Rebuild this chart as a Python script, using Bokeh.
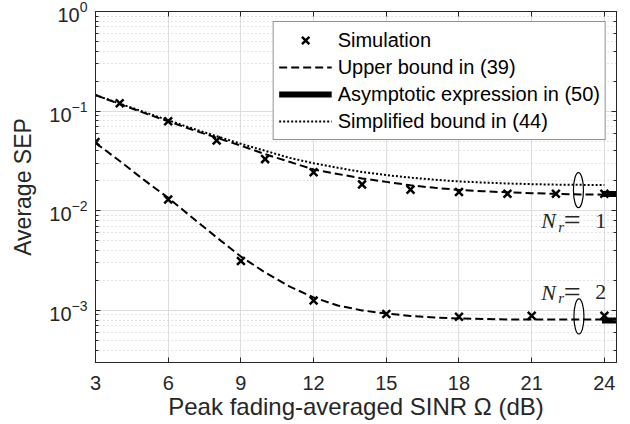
from bokeh.plotting import figure
from bokeh.models import (Range1d, FixedTicker, LinearAxis, LogAxis, Legend, LegendItem,
                          Label, LogTicker, CustomJSTickFormatter)
from bokeh.embed import file_html
from bokeh.resources import INLINE

# ---------------- data ----------------
snr_grid = [3, 4, 5, 6, 7, 8, 9, 10, 11, 12, 13, 14, 15, 16, 17, 18, 19, 20, 21, 22, 23, 24]
upper_nr1 = [0.145, 0.118, 0.096, 0.079, 0.065, 0.054, 0.045, 0.037, 0.031, 0.026, 0.0234,
             0.0211, 0.0195, 0.018, 0.017, 0.0162, 0.0157, 0.0153, 0.015, 0.0148, 0.0146, 0.0145]
simpl_nr1 = [0.145, 0.119, 0.098, 0.081, 0.067, 0.056, 0.047, 0.040, 0.034, 0.030, 0.027,
             0.0245, 0.0228, 0.0215, 0.0205, 0.0197, 0.0192, 0.0188, 0.0185, 0.0183, 0.0182, 0.0181]
upper_nr2 = [0.048, 0.0316, 0.0204, 0.0135, 0.0085, 0.0054, 0.00347, 0.0024, 0.00174, 0.00135,
             0.00112, 0.0010, 0.00093, 0.00088, 0.00085, 0.00083, 0.00082, 0.00081, 0.00081,
             0.00081, 0.00081, 0.00081]

sim_x_nr1 = [4, 6, 8, 10, 12, 14, 16, 18, 20, 22, 24]
sim_nr1 = [0.12, 0.079, 0.0507, 0.033, 0.0244, 0.0184, 0.0163, 0.0154, 0.0148, 0.0148, 0.0148]
sim_x_nr2 = [3, 6, 9, 12, 15, 18, 21, 24]
sim_nr2 = [0.049, 0.013, 0.00313, 0.00126, 0.00092, 0.000865, 0.000885, 0.000885]

asym_x = [23.9, 25.0]
asym_nr1 = [0.0147, 0.0147]
asym_nr2 = [0.00079, 0.00079]

ellipse_x = [22.93, 22.95]
ellipse_y = [0.0161, 0.00087]

label_x = 24.08
label_y = [0.00796, 0.00153]
label_digits = ["1", "2"]

x_ticks = [3, 6, 9, 12, 15, 18, 21, 24]

# ---------------- figure ----------------
TXT = "#262626"
p = figure(width=630, height=424, output_backend="svg", toolbar_location=None,
           y_axis_type="log", x_range=Range1d(3, 24.5), y_range=Range1d(3e-4, 1),
           min_border_left=95, min_border_right=14, min_border_top=11, min_border_bottom=62)
p.background_fill_color = "white"
p.outline_line_color = TXT
p.outline_line_width = 1

# grids
p.xgrid.grid_line_color = "#dedede"
p.ygrid.grid_line_color = "#dedede"
p.ygrid.minor_grid_line_color = "#c8c8c8"
p.ygrid.minor_grid_line_dash = "1 3"
p.xgrid.ticker = FixedTicker(ticks=x_ticks)

# axes
xa = p.xaxis[0]
xa.ticker = FixedTicker(ticks=x_ticks)
xa.axis_label = "Peak fading-averaged SINR Ω (dB)"
ya = p.yaxis[0]
ya.axis_label = "Average SEP"
for ax in (xa, ya):
    ax.axis_label_text_font = "Liberation Sans"
    ax.axis_label_text_font_size = "23px"
    ax.axis_label_text_font_style = "normal"
    ax.axis_label_text_color = TXT
    ax.major_label_text_font = "Liberation Sans"
    ax.major_label_text_font_size = "20px"
    ax.major_label_text_color = TXT
    ax.axis_line_color = TXT
    ax.major_tick_line_color = TXT
    ax.minor_tick_line_color = TXT
    ax.major_tick_in = 5
    ax.major_tick_out = 0
    ax.minor_tick_in = 3
    ax.minor_tick_out = 0
xa.axis_label_text_font_size = "24px"
xa.minor_tick_line_color = None
xa.major_label_standoff = 13
xa.axis_label_standoff = 0
ya.major_label_standoff = 8
ya.axis_label_standoff = 10

top = LinearAxis(ticker=FixedTicker(ticks=x_ticks),
                 formatter=CustomJSTickFormatter(code="return ' ';"),
                 major_label_text_font_size="1px",
                 major_tick_in=5, major_tick_out=0, major_label_standoff=0,
                 axis_line_color=TXT, major_tick_line_color=TXT, minor_tick_line_color=None)
p.add_layout(top, "above")
right = LogAxis(ticker=LogTicker(), formatter=CustomJSTickFormatter(code="return ' ';"),
                major_label_text_font_size="1px",
                major_tick_in=5, major_tick_out=0, minor_tick_in=3, minor_tick_out=0,
                major_label_standoff=0, axis_line_color=TXT,
                major_tick_line_color=TXT, minor_tick_line_color=TXT)
p.add_layout(right, "right")

# ---------------- data glyphs ----------------
ub1 = p.line(snr_grid, upper_nr1, line_color="black", line_width=2, line_dash="8 4")
p.line(snr_grid, upper_nr2, line_color="black", line_width=2, line_dash="8 4")
sb1 = p.line(snr_grid, simpl_nr1, line_color="black", line_width=2, line_dash="2 2")
as1 = p.line(asym_x, asym_nr1, line_color="black", line_width=6)
p.line(asym_x, asym_nr2, line_color="black", line_width=6)
sm1 = p.scatter(sim_x_nr1, sim_nr1, marker="x", size=11, line_color="black", line_width=2.5)
p.scatter(sim_x_nr2, sim_nr2, marker="x", size=11, line_color="black", line_width=2.5)

p.ellipse(x=ellipse_x, y=ellipse_y, width=10, height=35, width_units="screen",
          height_units="screen", fill_color=None, line_color="black", line_width=1.2)

# N_r labels
SERIF = "Liberation Serif"
for yv, d in zip(label_y, label_digits):
    p.add_layout(Label(x=label_x, y=yv, text="N", x_offset=-65, text_align="left",
                       text_baseline="middle", text_font=SERIF, text_font_style="italic",
                       text_font_size="22px", text_color=TXT))
    p.add_layout(Label(x=label_x, y=yv, text="r", x_offset=-48, y_offset=-6, text_align="left",
                       text_baseline="middle", text_font=SERIF, text_font_style="italic",
                       text_font_size="15px", text_color=TXT))
    p.add_layout(Label(x=label_x, y=yv, text="=", x_offset=-34, y_offset=1, text_align="center",
                       text_baseline="middle", text_font=SERIF,
                       text_font_size="30px", text_color=TXT))
    p.add_layout(Label(x=label_x, y=yv, text=d, x_offset=0, text_align="right",
                       text_baseline="middle", text_font=SERIF,
                       text_font_size="22px", text_color=TXT))

# ---------------- legend ----------------
legend = Legend(items=[
    LegendItem(label="Simulation", renderers=[sm1]),
    LegendItem(label="Upper bound in (39)", renderers=[ub1]),
    LegendItem(label="Asymptotic expression in (50)", renderers=[as1]),
    LegendItem(label="Simplified bound in (44)", renderers=[sb1]),
], location="top_right")
legend.label_text_font = "Liberation Sans"
legend.label_text_font_size = "20px"
legend.label_text_color = "black"
legend.border_line_color = TXT
legend.border_line_width = 1
legend.background_fill_alpha = 1
legend.label_height = 26
legend.glyph_height = 26
legend.glyph_width = 53
legend.spacing = 1
legend.padding = 5
legend.margin = 10
legend.label_standoff = 6
p.add_layout(legend)

open("out.html", "w").write(file_html(p, INLINE))
